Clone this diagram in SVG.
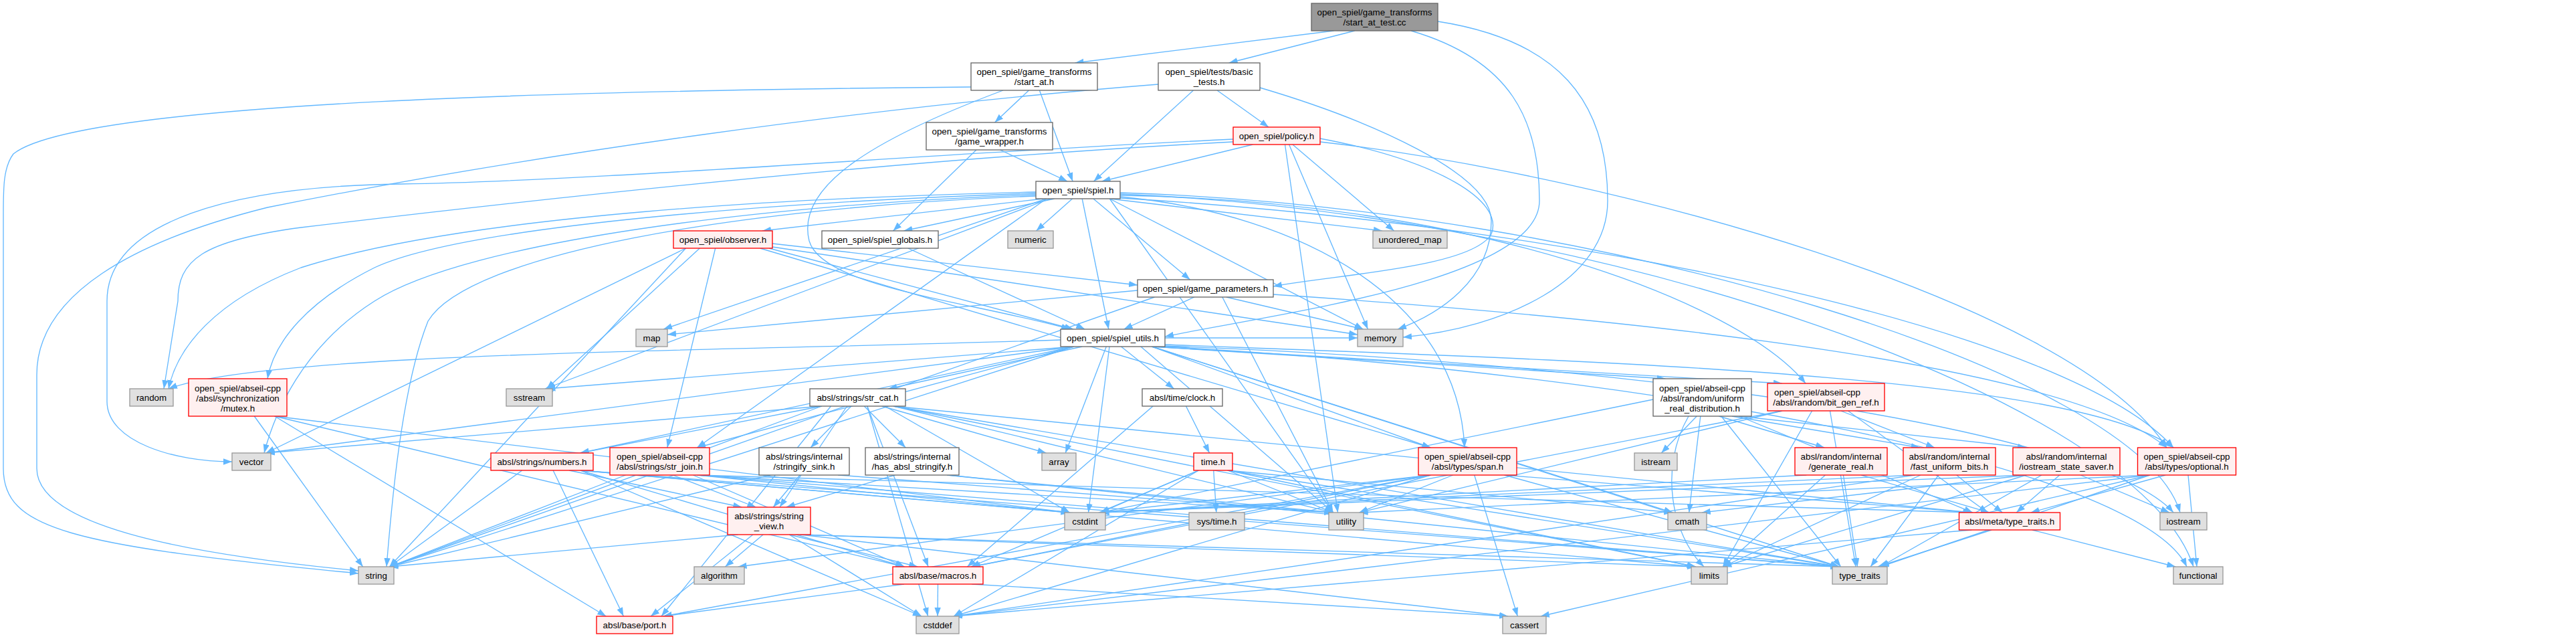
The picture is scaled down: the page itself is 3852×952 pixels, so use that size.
<svg xmlns="http://www.w3.org/2000/svg" width="3852" height="952" viewBox="0 0 3852 952">
<defs>
<marker id="ah" markerUnits="userSpaceOnUse" markerWidth="14" markerHeight="10" refX="13" refY="4.7" orient="auto"><path d="M0,0 L13,4.7 L0,9.4 z" fill="#63b8ff"/></marker>
<style>
.node rect{stroke-width:1.33}
.n rect{fill:#fff;stroke:#666}
.l rect{fill:#e0e0e0;stroke:#999}
.r rect{fill:#fff0f0;stroke:#f00}
.root rect{fill:#999;stroke:#666}
text{font-family:"Liberation Sans",Arial,sans-serif;font-size:13.33px;text-anchor:middle;fill:#000}
text.lt{text-anchor:start}
#edges path{fill:none;stroke:#63b8ff;stroke-width:1.33;marker-end:url(#ah)}
</style>
</defs>
<rect width="3852" height="952" fill="#fff"/>
<g id="edges">
<path d="M1994.5,46 L1607.5,94"/>
<path d="M2025.8,46 L1837.7,94"/>
<path d="M2110,46 C2260,90 2302,180 2302,300 C2302,420 1900,470 1742,503"/>
<path d="M2150,32 C2330,60 2404,150 2404,300 C2404,420 2250,490 2098,504"/>
<path d="M1538.5,135 L1487.5,183"/>
<path d="M1554.4,135 L1604.1,271"/>
<path d="M1500,135 C1300,210 1190,280 1210,360 C1230,430 1450,450 1600,492"/>
<path d="M1452,130 C900,135 120,150 20,230 C5,250 5,280 5,320 L5,700 C5,790 100,815 536,857"/>
<path d="M1820,135 L1897,190"/>
<path d="M1784.5,135 L1635.5,271"/>
<path d="M1884,131 C2050,180 2230,260 2230,330 C2230,420 2150,470 2090,492"/>
<path d="M1732,126 C1300,160 800,230 400,310 C200,360 55,440 55,560 L55,700 C55,790 300,830 536,853"/>
<path d="M1495.4,224 L1596.1,271"/>
<path d="M1459.9,224 L1335.6,345"/>
<path d="M1873.4,216 L1647.6,271"/>
<path d="M1932.9,216 L2084.6,345"/>
<path d="M1927.6,216 L2045.4,492"/>
<path d="M1974,207 C2150,240 2250,300 2230,350 C2200,400 2000,410 1904,428"/>
<path d="M1921.5,216 L2000.5,766"/>
<path d="M1974,212 C2400,260 3100,450 3240,669"/>
<path d="M1844,208 C1400,229 900,270 600,275 C350,278 160,330 160,450 L160,600 C160,660 260,690 347,690"/>
<path d="M1844,212 C1300,240 700,310 450,340 C300,360 266,390 266,450 L245,581"/>
<path d="M1560,297 L1140,345"/>
<path d="M1576.5,297 L1351.5,345"/>
<path d="M1603.5,297 L1549.5,345"/>
<path d="M1659.3,297 L2066.9,345"/>
<path d="M1634.9,297 L1779.6,418"/>
<path d="M1564.8,297 L992.1,492"/>
<path d="M1659.3,297 L2038.5,492"/>
<path d="M1618.2,297 L1657.8,492"/>
<path d="M1549,287 C1200,295 700,320 450,400 C320,450 265,520 252,581"/>
<path d="M1549,289 C1200,300 700,335 560,400 C460,450 410,510 400,566"/>
<path d="M1549,291 C1150,305 700,360 560,450 C450,520 410,620 395,677"/>
<path d="M1549,293 C1100,310 700,380 640,480 C600,580 585,760 578,847"/>
<path d="M1659.3,297 L1993.5,766"/>
<path d="M1675,292 C2200,300 2600,450 2700,573"/>
<path d="M1564.8,297 L1042.4,669"/>
<path d="M1675,294 C1950,320 2180,450 2190,669"/>
<path d="M1675,296 C2400,340 3100,500 3250,669"/>
<path d="M1675,290 C2400,320 3200,600 3280,847"/>
<path d="M1675,288 C2400,310 3200,560 3260,766"/>
<path d="M1570,297 L815,581"/>
<path d="M1155,364 L1701,426"/>
<path d="M1150,371 L1605,492"/>
<path d="M1155,369 L2030,500"/>
<path d="M1136.5,371 L2139.4,669"/>
<path d="M1025.5,371 L397.8,677"/>
<path d="M1025.5,371 L582.4,847"/>
<path d="M1069.7,371 L997.8,669"/>
<path d="M1046.3,371 L817.4,581"/>
<path d="M1357.8,371 L1622.2,492"/>
<path d="M1701,434 L998,500"/>
<path d="M1833.9,444 L2038.5,492"/>
<path d="M1785.9,444 L1680.6,492"/>
<path d="M1827.8,444 L1993.5,766"/>
<path d="M1726.5,444 L582.4,847"/>
<path d="M1904,440 C2500,480 3100,550 3240,669"/>
<path d="M1742,505 L2030,505"/>
<path d="M1586,508 C1100,525 400,525 252,581"/>
<path d="M1605.5,518 L817.4,581"/>
<path d="M1618.2,518 L1328.3,581"/>
<path d="M1676.5,518 L1755.5,581"/>
<path d="M1722.5,518 L2490.4,566"/>
<path d="M1722.5,518 L2664.9,573"/>
<path d="M1605.5,518 L397.8,677"/>
<path d="M1605.5,518 L582.4,847"/>
<path d="M1654.3,518 L1593.2,677"/>
<path d="M1722.5,518 L2139.4,669"/>
<path d="M1742,515 C2400,540 3100,560 3250,669"/>
<path d="M1659,518 L1627.5,766"/>
<path d="M1705.9,518 L1993.5,766"/>
<path d="M1722.5,518 L2501.3,766"/>
<path d="M1722.5,518 L2750.3,847"/>
<path d="M1742,518 C2500,560 3200,700 3270,847"/>
<path d="M1742,517 C2500,545 3150,650 3250,766"/>
<path d="M1605.5,518 L867.9,677"/>
<path d="M1605.5,518 L1042.4,669"/>
<path d="M1228.9,607 L397.8,677"/>
<path d="M1228.9,607 L582.4,847"/>
<path d="M1228.9,607 L867.1,677"/>
<path d="M1272.9,607 L1212.1,669"/>
<path d="M1292.3,607 L1354.2,669"/>
<path d="M1266.6,607 L1165.9,758"/>
<path d="M1318.6,607 L1564.4,677"/>
<path d="M1323.3,607 L1599.6,766"/>
<path d="M1336.1,607 L1993.5,766"/>
<path d="M1296.9,607 L1388.1,847"/>
<path d="M1242.5,607 L989,921"/>
<path d="M1336.1,607 L2535.8,847"/>
<path d="M1336.1,607 L2750.3,847"/>
<path d="M1336.1,607 L2948.4,766"/>
<path d="M1296.8,607 L1387.7,921"/>
<path d="M1773.5,607 L1808.5,677"/>
<path d="M1724.1,607 L1446.4,847"/>
<path d="M2537.2,622 L2484.3,677"/>
<path d="M2542.8,622 L2525.7,766"/>
<path d="M2525,622 C2480,700 2500,800 2548,847"/>
<path d="M2570.4,622 L2728.1,669"/>
<path d="M2589.8,622 L2870.7,669"/>
<path d="M2600.6,622 L3030,669"/>
<path d="M2600.6,622 L2949.9,766"/>
<path d="M2573.8,622 L2752.7,847"/>
<path d="M2472,597 L1645,766"/>
<path d="M2664.9,614 L2032.5,766"/>
<path d="M2736.5,614 L2775,847"/>
<path d="M2664.9,614 L1453.1,847"/>
<path d="M2763.4,614 L2972.1,766"/>
<path d="M2752.6,614 L2892.9,669"/>
<path d="M2709.6,614 L2576.3,847"/>
<path d="M780.7,703 L582.4,847"/>
<path d="M827.1,703 L932.4,921"/>
<path d="M851.2,703 L1109.3,758"/>
<path d="M867.9,703 L1352,847"/>
<path d="M867.9,703 L1599.6,766"/>
<path d="M867.9,703 L1378,921"/>
<path d="M867.9,703 L2535.8,847"/>
<path d="M867.9,703 L2750.3,847"/>
<path d="M935.6,710 L582.4,847"/>
<path d="M1006.1,710 L1130.4,758"/>
<path d="M1036.4,710 L1352.6,847"/>
<path d="M1042.4,710 L1599.6,766"/>
<path d="M1042.4,710 L1993.5,766"/>
<path d="M1042.4,710 L2750.3,847"/>
<path d="M1042.4,710 L2948.4,766"/>
<path d="M1196.2,710 L1156.3,758"/>
<path d="M1151.9,710 L582.4,847"/>
<path d="M1253.1,710 L1993.5,766"/>
<path d="M1338.3,710 L1175.7,758"/>
<path d="M1416.5,710 L2750.3,847"/>
<path d="M1416.5,710 L1993.5,766"/>
<path d="M1792.3,703 L1645.4,766"/>
<path d="M1814.7,703 L1818.8,766"/>
<path d="M1835.8,703 L1993.5,766"/>
<path d="M1792.3,703 L1451.9,847"/>
<path d="M1835.8,703 L2535.8,847"/>
<path d="M1835.8,703 L2750.3,847"/>
<path d="M1792.3,703 L1426,921"/>
<path d="M1835.8,703 L2501.3,766"/>
<path d="M2139.4,710 L1103.6,847"/>
<path d="M2204.7,710 L2269.3,921"/>
<path d="M2139.4,710 L1426,921"/>
<path d="M2139.4,710 L1453.1,847"/>
<path d="M2139.4,710 L991.8,921"/>
<path d="M2249.6,710 L2750.3,847"/>
<path d="M2172.7,710 L2032.5,766"/>
<path d="M2249.6,710 L2948.4,766"/>
<path d="M2139.4,710 L1645.4,766"/>
<path d="M2729.4,710 L2576.3,847"/>
<path d="M2756.4,710 L2777.6,847"/>
<path d="M2701.3,710 L1645.4,766"/>
<path d="M2783.2,710 L2974.8,766"/>
<path d="M2871.9,710 L2576.3,847"/>
<path d="M2898.9,710 L2797.1,847"/>
<path d="M2863.3,710 L1645.4,766"/>
<path d="M2925.8,710 L2994.2,766"/>
<path d="M2863.3,710 L1426,921"/>
<path d="M3111,710 L3244,766"/>
<path d="M3030,710 L2576.3,847"/>
<path d="M3052.9,710 L2811.8,847"/>
<path d="M3079.8,710 L3015.2,766"/>
<path d="M3030,710 L2544.8,766"/>
<path d="M3030,710 L1645.4,766"/>
<path d="M3214.9,710 L1426,921"/>
<path d="M3272,710 L3285,847"/>
<path d="M3214.9,710 L2811.8,847"/>
<path d="M3214.9,710 L2032.5,766"/>
<path d="M3238.2,710 L3036.8,766"/>
<path d="M3214.9,710 L2303.9,921"/>
<path d="M2978.1,792 L2807.9,847"/>
<path d="M3038.8,792 L3253.2,847"/>
<path d="M2948.4,792 L1426,921"/>
<path d="M1141.1,799 L1084.4,847"/>
<path d="M1103.5,799 L582.4,847"/>
<path d="M1125.9,799 L973.1,921"/>
<path d="M1180.3,799 L1372.2,847"/>
<path d="M1180.2,799 L1378,921"/>
<path d="M1196.5,799 L2255.1,921"/>
<path d="M1196.5,799 L2535.8,847"/>
<path d="M1196.5,799 L2750.3,847"/>
<path d="M1402.5,873 L1402,921"/>
<path d="M1453.1,873 L2255.1,921"/>
<path d="M1351.9,873 L991.8,921"/>
<path d="M380.3,622 L542.6,847"/>
<path d="M410.6,622 L906.3,921"/>
<path d="M410.6,622 L1599.6,766"/>
<path d="M410.6,622 L1351.9,847"/>
</g>
<g id="n_start_at_test" class="node root"><rect x="1961" y="5" width="189" height="41"/><text x="2055.5" y="23">open_spiel/game_transforms</text><text x="2055.5" y="38">/start_at_test.cc</text></g>
<g id="n_start_at" class="node n"><rect x="1452" y="94" width="189" height="41"/><text x="1546.5" y="112">open_spiel/game_transforms</text><text x="1546.5" y="127">/start_at.h</text></g>
<g id="n_basic_tests" class="node n"><rect x="1732" y="94" width="152" height="41"/><text x="1808" y="112">open_spiel/tests/basic</text><text x="1808" y="127">_tests.h</text></g>
<g id="n_game_wrapper" class="node n"><rect x="1385" y="183" width="189" height="41"/><text x="1479.5" y="201">open_spiel/game_transforms</text><text x="1479.5" y="216">/game_wrapper.h</text></g>
<g id="n_policy" class="node r"><rect x="1844" y="190" width="130" height="26"/><text x="1909" y="208">open_spiel/policy.h</text></g>
<g id="n_spiel" class="node n"><rect x="1549" y="271" width="126" height="26"/><text x="1612" y="289">open_spiel/spiel.h</text></g>
<g id="n_observer" class="node r"><rect x="1007" y="345" width="148" height="26"/><text x="1081" y="363">open_spiel/observer.h</text></g>
<g id="n_spiel_globals" class="node n"><rect x="1229" y="345" width="174" height="26"/><text x="1316" y="363">open_spiel/spiel_globals.h</text></g>
<g id="n_numeric" class="node l"><rect x="1507" y="345" width="68" height="26"/><text x="1541" y="363">numeric</text></g>
<g id="n_unordered_map" class="node l"><rect x="2053" y="345" width="111" height="26"/><text x="2108.5" y="363">unordered_map</text></g>
<g id="n_game_parameters" class="node n"><rect x="1701" y="418" width="203" height="26"/><text x="1802.5" y="436">open_spiel/game_parameters.h</text></g>
<g id="n_map" class="node l"><rect x="951" y="492" width="47" height="26"/><text x="974.5" y="510">map</text></g>
<g id="n_memory" class="node l"><rect x="2030" y="492" width="68" height="26"/><text x="2064" y="510">memory</text></g>
<g id="n_spiel_utils" class="node n"><rect x="1586" y="492" width="156" height="26"/><text x="1664" y="510">open_spiel/spiel_utils.h</text></g>
<g id="n_random" class="node l"><rect x="194" y="581" width="65" height="26"/><text x="226.5" y="599">random</text></g>
<g id="n_mutex" class="node r"><rect x="282" y="566" width="147" height="56"/><text x="355.5" y="584.5">open_spiel/abseil-cpp</text><text x="355.5" y="599.5">/absl/synchronization</text><text x="355.5" y="614.5">/mutex.h</text></g>
<g id="n_sstream" class="node l"><rect x="757" y="581" width="69" height="26"/><text x="791.5" y="599">sstream</text></g>
<g id="n_str_cat" class="node n"><rect x="1211" y="581" width="143" height="26"/><text x="1282.5" y="599">absl/strings/str_cat.h</text></g>
<g id="n_clock" class="node n"><rect x="1708" y="581" width="120" height="26"/><text x="1768" y="599">absl/time/clock.h</text></g>
<g id="n_uniform_real" class="node n"><rect x="2472" y="566" width="147" height="56"/><text x="2545.5" y="584.5">open_spiel/abseil-cpp</text><text x="2545.5" y="599.5">/absl/random/uniform</text><text x="2545.5" y="614.5">_real_distribution.h</text></g>
<g id="n_bit_gen_ref" class="node r"><rect x="2643" y="573" width="175" height="41"/><text class="lt" x="2653" y="591">open_spiel/abseil-cpp</text><text x="2730.5" y="606">/absl/random/bit_gen_ref.h</text></g>
<g id="n_vector" class="node l"><rect x="347" y="677" width="58" height="26"/><text x="376" y="695">vector</text></g>
<g id="n_numbers" class="node r"><rect x="734" y="677" width="153" height="26"/><text x="810.5" y="695">absl/strings/numbers.h</text></g>
<g id="n_str_join" class="node r"><rect x="912" y="669" width="149" height="41"/><text x="986.5" y="687">open_spiel/abseil-cpp</text><text x="986.5" y="702">/absl/strings/str_join.h</text></g>
<g id="n_stringify_sink" class="node n"><rect x="1135" y="669" width="135" height="41"/><text x="1202.5" y="687">absl/strings/internal</text><text x="1202.5" y="702">/stringify_sink.h</text></g>
<g id="n_has_absl_stringify" class="node n"><rect x="1294" y="669" width="140" height="41"/><text x="1364" y="687">absl/strings/internal</text><text x="1364" y="702">/has_absl_stringify.h</text></g>
<g id="n_array" class="node l"><rect x="1558" y="677" width="51" height="26"/><text x="1583.5" y="695">array</text></g>
<g id="n_time" class="node r"><rect x="1785" y="677" width="58" height="26"/><text x="1814" y="695">time.h</text></g>
<g id="n_span" class="node r"><rect x="2121" y="669" width="147" height="41"/><text x="2194.5" y="687">open_spiel/abseil-cpp</text><text x="2194.5" y="702">/absl/types/span.h</text></g>
<g id="n_istream" class="node l"><rect x="2444" y="677" width="64" height="26"/><text x="2476" y="695">istream</text></g>
<g id="n_generate_real" class="node r"><rect x="2684" y="669" width="138" height="41"/><text x="2753" y="687">absl/random/internal</text><text x="2753" y="702">/generate_real.h</text></g>
<g id="n_fast_uniform_bits" class="node r"><rect x="2846" y="669" width="138" height="41"/><text x="2915" y="687">absl/random/internal</text><text x="2915" y="702">/fast_uniform_bits.h</text></g>
<g id="n_iostream_state_saver" class="node r"><rect x="3010" y="669" width="160" height="41"/><text x="3090" y="687">absl/random/internal</text><text x="3090" y="702">/iostream_state_saver.h</text></g>
<g id="n_optional" class="node r"><rect x="3196.5" y="669" width="147" height="41"/><text x="3270" y="687">open_spiel/abseil-cpp</text><text x="3270" y="702">/absl/types/optional.h</text></g>
<g id="n_cstdint" class="node l"><rect x="1592" y="766" width="61" height="26"/><text x="1622.5" y="784">cstdint</text></g>
<g id="n_sys_time" class="node l"><rect x="1778" y="766" width="83" height="26"/><text x="1819.5" y="784">sys/time.h</text></g>
<g id="n_utility" class="node l"><rect x="1987" y="766" width="52" height="26"/><text x="2013" y="784">utility</text></g>
<g id="n_cmath" class="node l"><rect x="2494" y="766" width="58" height="26"/><text x="2523" y="784">cmath</text></g>
<g id="n_meta_type_traits" class="node r"><rect x="2929.5" y="766" width="151" height="26"/><text x="3005" y="784">absl/meta/type_traits.h</text></g>
<g id="n_iostream" class="node l"><rect x="3230" y="766" width="70" height="26"/><text x="3265" y="784">iostream</text></g>
<g id="n_string_view" class="node r"><rect x="1088" y="758" width="124" height="41"/><text x="1150" y="776">absl/strings/string</text><text x="1150" y="791">_view.h</text></g>
<g id="n_string" class="node l"><rect x="536" y="847" width="53" height="26"/><text x="562.5" y="865">string</text></g>
<g id="n_algorithm" class="node l"><rect x="1038" y="847" width="75" height="26"/><text x="1075.5" y="865">algorithm</text></g>
<g id="n_macros" class="node r"><rect x="1335" y="847" width="135" height="26"/><text x="1402.5" y="865">absl/base/macros.h</text></g>
<g id="n_limits" class="node l"><rect x="2529" y="847" width="54" height="26"/><text x="2556" y="865">limits</text></g>
<g id="n_type_traits" class="node l"><rect x="2740" y="847" width="82" height="26"/><text x="2781" y="865">type_traits</text></g>
<g id="n_functional" class="node l"><rect x="3250" y="847" width="74" height="26"/><text x="3287" y="865">functional</text></g>
<g id="n_port" class="node r"><rect x="892" y="921" width="114" height="26"/><text x="949" y="939">absl/base/port.h</text></g>
<g id="n_cstddef" class="node l"><rect x="1370" y="921" width="64" height="26"/><text x="1402" y="939">cstddef</text></g>
<g id="n_cassert" class="node l"><rect x="2247" y="921" width="65" height="26"/><text x="2279.5" y="939">cassert</text></g>
</svg>
